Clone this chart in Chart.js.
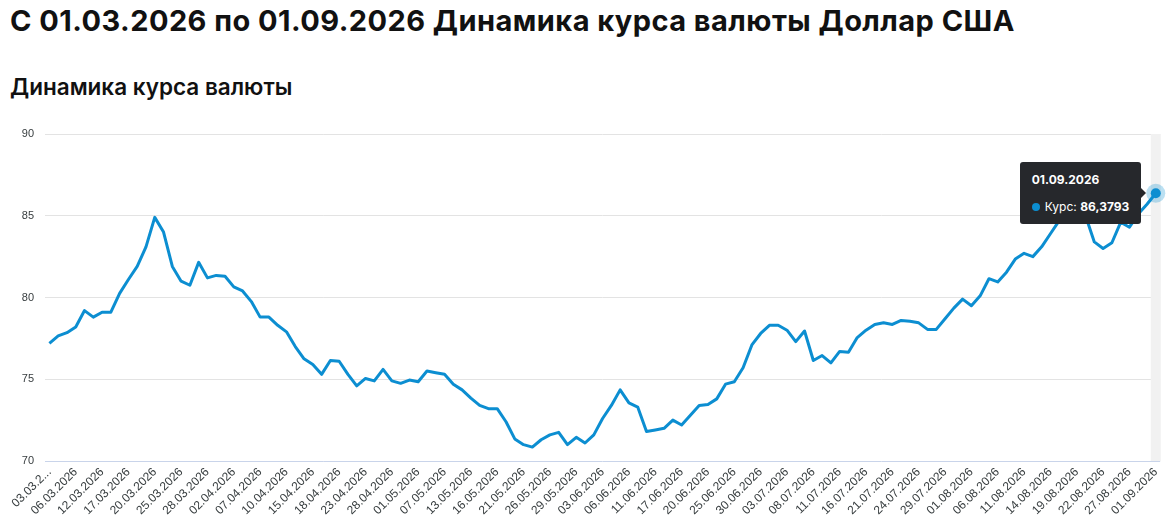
<!DOCTYPE html>
<html lang="ru">
<head>
<meta charset="utf-8">
<script src="https://cdn.jsdelivr.net/npm/chart.js@4"></script>
<style>
  body { margin: 0; background: #fff; width: 1170px; height: 526px; overflow: hidden; position: relative; font-family: Inter, sans-serif; }
  h1 { position: absolute; left: 10px; top: 6px; margin: 0; font-size: 29px; line-height: 29px; letter-spacing: 0.45px; font-weight: 700; color: #111; white-space: nowrap; }
  h2 { position: absolute; left: 10px; top: 76px; margin: 0; font-size: 22.5px; line-height: 22px; font-weight: 600; color: #111; white-space: nowrap; }
  #wrap { position: absolute; left: 0; top: 110px; width: 1170px; height: 416px; }
  #tip { position: absolute; display: none; background: #26282c; color: #fff; font-family: Inter, sans-serif; font-size: 12px; border-radius: 3px; padding: 10px 12px 10px 12px; white-space: nowrap; }
  #tip .tt { font-weight: 700; margin-bottom: 12px; }
  #tip .dot { display: inline-block; width: 8px; height: 8px; border-radius: 50%; background: #0c8ed1; margin-right: 5px; vertical-align: 0px; }
  #tip b { font-weight: 700; }
  #tip:after { content: ""; position: absolute; right: -5px; top: 50%; margin-top: -5px; border-left: 5px solid #26282c; border-top: 5px solid transparent; border-bottom: 5px solid transparent; }
</style>
</head>
<body>
<h1>С 01.03.2026 по 01.09.2026 Динамика курса валюты Доллар США</h1>
<h2>Динамика курса валюты</h2>
<div id="wrap"><canvas id="chart"></canvas><div id="tip"></div></div>
<script>
// даты курса ЦБ (вт-сб)
let dates = [
  '03.03.2026','04.03.2026','05.03.2026','06.03.2026','07.03.2026','11.03.2026','12.03.2026','13.03.2026','14.03.2026','17.03.2026',
  '18.03.2026','19.03.2026','20.03.2026','21.03.2026','24.03.2026','25.03.2026','26.03.2026','27.03.2026','28.03.2026','31.03.2026',
  '01.04.2026','02.04.2026','03.04.2026','04.04.2026','07.04.2026','08.04.2026','09.04.2026','10.04.2026','11.04.2026','14.04.2026',
  '15.04.2026','16.04.2026','17.04.2026','18.04.2026','21.04.2026','22.04.2026','23.04.2026','24.04.2026','25.04.2026','28.04.2026',
  '29.04.2026','30.04.2026','01.05.2026','05.05.2026','06.05.2026','07.05.2026','08.05.2026','12.05.2026','13.05.2026','14.05.2026',
  '15.05.2026','16.05.2026','19.05.2026','20.05.2026','21.05.2026','22.05.2026','23.05.2026','26.05.2026','27.05.2026','28.05.2026',
  '29.05.2026','30.05.2026','02.06.2026','03.06.2026','04.06.2026','05.06.2026','06.06.2026','09.06.2026','10.06.2026','11.06.2026',
  '13.06.2026','16.06.2026','17.06.2026','18.06.2026','19.06.2026','20.06.2026','23.06.2026','24.06.2026','25.06.2026','26.06.2026',
  '27.06.2026','30.06.2026','01.07.2026','02.07.2026','03.07.2026','04.07.2026','07.07.2026','08.07.2026','09.07.2026','10.07.2026',
  '11.07.2026','14.07.2026','15.07.2026','16.07.2026','17.07.2026','18.07.2026','21.07.2026','22.07.2026','23.07.2026','24.07.2026',
  '25.07.2026','28.07.2026','29.07.2026','30.07.2026','31.07.2026','01.08.2026','04.08.2026','05.08.2026','06.08.2026','07.08.2026',
  '08.08.2026','11.08.2026','12.08.2026','13.08.2026','14.08.2026','15.08.2026','18.08.2026','19.08.2026','20.08.2026','21.08.2026',
  '22.08.2026','25.08.2026','26.08.2026','27.08.2026','28.08.2026','29.08.2026','01.09.2026'
];

let rates = [
  77.2, 77.65, 77.85, 78.2, 79.2, 78.8, 79.1, 79.1, 80.25, 81.1,
  81.9, 83.1, 84.9, 84.0, 81.9, 81.0, 80.75, 82.15, 81.2, 81.35,
  81.3, 80.65, 80.4, 79.75, 78.8, 78.8, 78.3, 77.9, 77.0, 76.25,
  75.9, 75.3, 76.15, 76.1, 75.3, 74.6, 75.05, 74.9, 75.6, 74.9,
  74.75, 74.95, 74.85, 75.5, 75.4, 75.3, 74.7, 74.35, 73.85, 73.4,
  73.2, 73.2, 72.4, 71.35, 71.0, 70.85, 71.3, 71.6, 71.75, 71.0,
  71.45, 71.1, 71.6, 72.6, 73.4, 74.35, 73.55, 73.3, 71.8, 71.9,
  72.0, 72.5, 72.2, 72.8, 73.4, 73.45, 73.8, 74.7, 74.85, 75.7,
  77.1, 77.8, 78.3, 78.3, 78.0, 77.3, 77.95, 76.15, 76.45, 76.0,
  76.7, 76.65, 77.55, 78.0, 78.35, 78.45, 78.35, 78.6, 78.55, 78.45,
  78.05, 78.05, 78.7, 79.35, 79.9, 79.5, 80.1, 81.15, 80.95, 81.55,
  82.35, 82.7, 82.5, 83.1, 83.9, 84.7, 85.3, 85.5, 85.0, 83.4,
  83.0, 83.35, 84.6, 84.3, 85.1, 85.7, 86.3793
];

// подписи оси X (каждая третья дата)
let tickLabels = [
  '03.03.2...','06.03.2026','12.03.2026','17.03.2026','20.03.2026','25.03.2026','28.03.2026','02.04.2026','07.04.2026','10.04.2026',
  '15.04.2026','18.04.2026','23.04.2026','28.04.2026','01.05.2026','07.05.2026','13.05.2026','16.05.2026','21.05.2026','26.05.2026',
  '29.05.2026','03.06.2026','06.06.2026','11.06.2026','17.06.2026','20.06.2026','25.06.2026','30.06.2026','03.07.2026','08.07.2026',
  '11.07.2026','16.07.2026','21.07.2026','24.07.2026','29.07.2026','01.08.2026','06.08.2026','11.08.2026','14.08.2026','19.08.2026',
  '22.08.2026','27.08.2026','01.09.2026'
];
let tickStep = 3;
let yTicks = [70, 75, 80, 85, 90];

let lineColor = '#0c8ed1';
let last = rates.length - 1;

// серая полоса и ореол под активной точкой
const hoverBand = {
  id: 'hoverBand',
  beforeDatasetsDraw(chart) {
    const pt = chart.getDatasetMeta(0).data[last];
    const area = chart.chartArea;
    const c = chart.ctx;
    c.save();
    c.fillStyle = '#f1f1f1';
    c.fillRect(pt.x - 5, area.top, 10, area.bottom - area.top);
    c.restore();
  },
  afterDatasetsDraw(chart) {
    const pt = chart.getDatasetMeta(0).data[last];
    const c = chart.ctx;
    c.save();
    c.beginPath();
    c.arc(pt.x, pt.y, 9.5, 0, Math.PI * 2);
    c.fillStyle = 'rgba(12,142,209,0.28)';
    c.fill();
    c.beginPath();
    c.arc(pt.x, pt.y, 5, 0, Math.PI * 2);
    c.fillStyle = lineColor;
    c.fill();
    c.restore();
  }
};

function showTip(context) {
  const t = context.tooltip;
  const el = document.getElementById('tip');
  if (t.opacity === 0 || !t.dataPoints || !t.dataPoints.length) { el.style.display = 'none'; return; }
  const i = t.dataPoints[0].dataIndex;
  el.innerHTML = `<div class="tt">${dates[i]}</div><div><span class="dot"></span>Курс: <b>${rates[i].toFixed(4).replace('.', ',')}</b></div>`;
  el.style.display = 'block';
  el.style.left = (t.caretX - 14 - el.offsetWidth) + 'px';
  el.style.top = (t.caretY - el.offsetHeight / 2) + 'px';
}

const ctx = document.getElementById('chart');

const chart = new Chart(ctx, {
  type: 'line',
  data: {
    labels: dates,
    datasets: [{
      label: 'Курс',
      data: rates,
      borderColor: lineColor,
      backgroundColor: lineColor,
      borderWidth: 3,
      tension: 0,
      pointRadius: 0,
      pointHoverRadius: 0,
      borderJoinStyle: 'round'
    }]
  },
  options: {
    responsive: true,
    maintainAspectRatio: false,
    animation: false,
    events: [],
    layout: { padding: { top: 24, right: 9, left: 0, bottom: 0 } },
    plugins: {
      legend: { display: false },
      tooltip: { enabled: false, external: showTip, mode: 'index', intersect: false }
    },
    scales: {
      x: {
        offset: true,
        grid: { display: false, drawTicks: false },
        border: { display: false },
        afterFit: s => { s.height = 65; },
        ticks: {
          autoSkip: false,
          minRotation: 45,
          maxRotation: 45,
          padding: 4,
          color: '#373d3f',
          font: { family: 'Liberation Sans', size: 12 },
          callback: (v, i) => (i % tickStep === 0 ? tickLabels[i / tickStep] : null)
        }
      },
      y: {
        min: yTicks[0],
        max: yTicks[yTicks.length - 1],
        afterFit: s => { s.width = 45; },
        afterBuildTicks: s => { s.ticks = yTicks.map(v => ({ value: v })); },
        grid: {
          drawTicks: false,
          color: c => (c.tick && c.tick.value === yTicks[0] ? '#c9d4ea' : '#e3e3e3'),
          lineWidth: 1
        },
        border: { display: false },
        ticks: {
          padding: 11,
          color: '#373d3f',
          font: { family: 'Liberation Sans', size: 11 }
        }
      }
    }
  },
  plugins: [hoverBand]
});

chart.tooltip.setActiveElements([{ datasetIndex: 0, index: last }], { x: 0, y: 0 });
chart.update();
</script>
</body>
</html>
